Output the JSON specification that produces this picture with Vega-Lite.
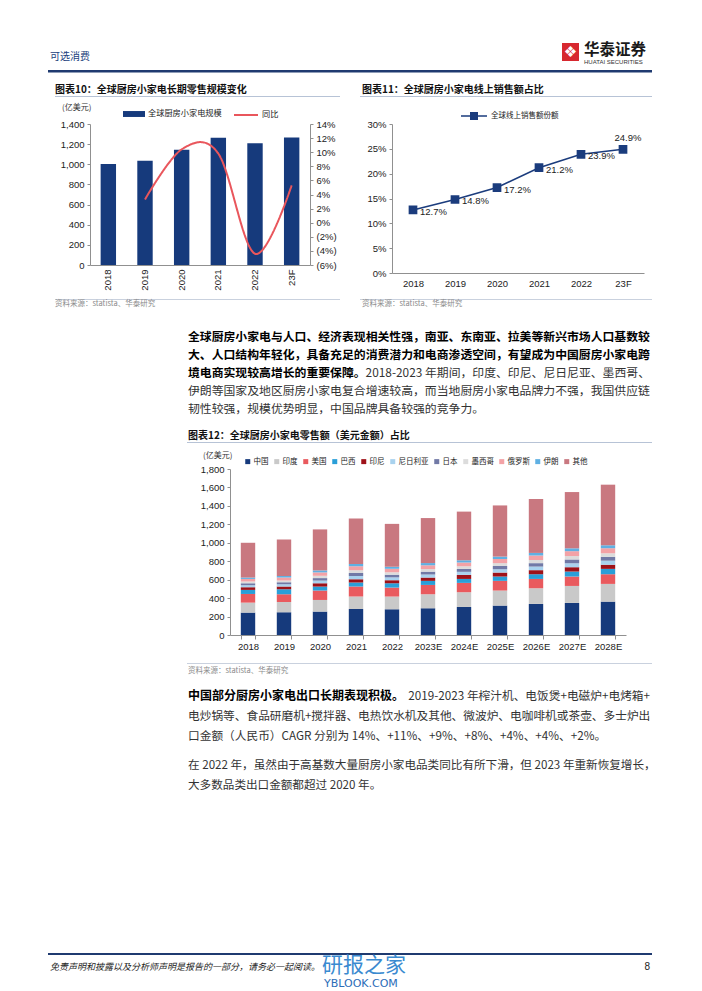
{
"$schema": "https://vega.github.io/schema/vega-lite/v6.json",
"padding": 0,
"background": "#ffffff",
"spacing": 0,
"config": {
  "view": {"stroke": null},
  "font": "Liberation Sans",
  "axis": {"labelFont": "Liberation Sans", "labelFontSize": 9.5, "labelColor": "#222222", "domainColor": "#909090", "tickColor": "#909090", "grid": false, "tickSize": 3, "labelPadding": 3, "title": null},
  "legend": {"labelFont": "Noto Sans CJK SC", "labelColor": "#222222", "labelFontSize": 8},
  "text": {"font": "Noto Sans CJK SC"}
},
"vconcat": [
{"width":702,"height":43,"data":{"values":[]},"mark":"rect"},

{"hconcat":[
  {"width":50,"height":27,"data":{"values":[]},"mark":"rect"},
  {"width":60,"height":27,"data":{"values":[{}]},"mark":{"type":"text","text":"可选消费","align":"left","baseline":"middle","fontSize":10,"color":"#22407c"},"encoding":{"x":{"value":0}}},
  {"width":452,"height":27,"data":{"values":[]},"mark":"rect"},
  {"width":17,"height":18,"data":{"values":[{}]},"layer":[
    {"mark":{"type":"rect","color":"#d7282f"},"encoding":{}},
    {"mark":{"type":"text","text":"❖","color":"#ffffff","fontSize":15,"font":"DejaVu Sans","align":"center","baseline":"middle"},"encoding":{}}
  ]},
  {"width":5,"height":27,"data":{"values":[]},"mark":"rect"},
  {"width":66,"height":22,"data":{"values":[{}]},"layer":[
    {"mark":{"type":"text","text":"华泰证券","align":"left","baseline":"top","fontSize":15.5,"fontWeight":"bold","color":"#1a1a1a"},"encoding":{"x":{"value":0},"y":{"value":0}}},
    {"mark":{"type":"text","text":"HUATAI SECURITIES","align":"left","baseline":"bottom","fontSize":6,"font":"Liberation Sans","color":"#333333"},"encoding":{"x":{"value":0},"y":{"value":"height"}}}
  ]},
  {"width":52,"height":27,"data":{"values":[]},"mark":"rect"}
],"bounds":"flush","spacing":0},

{"hconcat":[
  {"width":48,"height":2.5,"data":{"values":[]},"mark":"rect"},
  {"width":604,"height":2.5,"data":{"values":[{}]},"mark":{"type":"rect","color":"#1f3a70"},"encoding":{}}
],"bounds":"flush","spacing":0},

{"width":1,"height":9.5,"data":{"values":[]},"mark":"rect"},

{"hconcat":[
  {"width":55,"height":13,"data":{"values":[]},"mark":"rect"},
  {"width":285,"height":13,"data":{"values":[{}]},"mark":{"type":"text","text":"图表10：全球厨房小家电长期零售规模变化","align":"left","baseline":"middle","fontSize":10,"fontWeight":"bold","color":"#111111"},"encoding":{"x":{"value":0}}},
  {"width":22,"height":13,"data":{"values":[]},"mark":"rect"},
  {"width":290,"height":13,"data":{"values":[{}]},"mark":{"type":"text","text":"图表11：全球厨房小家电线上销售额占比","align":"left","baseline":"middle","fontSize":10,"fontWeight":"bold","color":"#111111"},"encoding":{"x":{"value":0}}}
],"bounds":"flush","spacing":0},

{"hconcat":[
  {"width":55,"height":1,"data":{"values":[]},"mark":"rect"},
  {"width":285,"height":1,"data":{"values":[{}]},"mark":{"type":"rect","color":"#b7c3d6"},"encoding":{}},
  {"width":20,"height":1,"data":{"values":[]},"mark":"rect"},
  {"width":292,"height":1,"data":{"values":[{}]},"mark":{"type":"rect","color":"#b7c3d6"},"encoding":{}}
],"bounds":"flush","spacing":0},

{"hconcat":[
  {"width":62,"height":21.25,"data":{"values":[]},"mark":"rect"},
  {"width":40,"height":21.25,"data":{"values":[{}]},"mark":{"type":"text","text":"(亿美元)","align":"left","baseline":"middle","fontSize":8,"color":"#333333"},"encoding":{"x":{"value":0}}}
],"bounds":"flush","spacing":0},

{"hconcat":[
  {"width":90,"height":175,"data":{"values":[]},"mark":"rect"},
  {"width":220,"height":141,
   "data":{"values":[
     {"year":"2018","v":1003},
     {"year":"2019","v":1036,"yoy":3.3},
     {"year":"2020","v":1145,"yoy":10.4},
     {"year":"2021","v":1264,"yoy":9.8},
     {"year":"2022","v":1208,"yoy":-4.4},
     {"year":"23F","v":1267,"yoy":5.3}
   ]},
   "layer":[
    {"mark":{"type":"bar"},
     "encoding":{
      "x":{"field":"year","type":"ordinal","sort":null,"scale":{"paddingInner":0.58,"paddingOuter":0.29},"axis":{"labelAngle":270,"ticks":false,"labelPadding":4}},
      "y":{"field":"v","type":"quantitative","scale":{"domain":[0,1400]},"axis":{"values":[0,200,400,600,800,1000,1200,1400],"format":",.0f"}},
      "fill":{"datum":"全球厨房小家电规模","type":"nominal","scale":{"range":["#163a7c"]},"legend":{"orient":"none","legendX":123,"legendY":103,"title":null,"symbolType":"M-1,-0.27H1V0.27H-1Z","symbolSize":484,"symbolStrokeWidth":0,"labelFontSize":8.2,"labelOffset":3}}
     }},
    {"mark":{"type":"line","interpolate":"cardinal","tension":0,"strokeWidth":2,"color":"#e9565c"},
     "encoding":{
      "x":{"field":"year","type":"ordinal","sort":null,"bandPosition":0.5},
      "y":{"field":"yoy","type":"quantitative","scale":{"domain":[-6,14]},"axis":{"orient":"right","values":[-6,-4,-2,0,2,4,6,8,10,12,14],"labelExpr":"datum.value < 0 ? '(' + abs(datum.value) + '%)' : datum.value + '%'"}},
      "strokeDash":{"datum":"同比","type":"nominal","scale":{"range":[[1,0]]},"legend":{"orient":"none","legendX":233,"legendY":102,"title":null,"symbolType":"stroke","symbolSize":576,"symbolStrokeWidth":2,"symbolStrokeColor":"#e9565c","labelFontSize":8.2,"labelOffset":3}}
     }}
   ],
   "resolve":{"scale":{"y":"independent"}}
  },
  {"width":82,"height":175,"data":{"values":[]},"mark":"rect"},
  {"width":252,"height":149,
   "data":{"values":[
     {"year":"2018","v":0.127},
     {"year":"2019","v":0.148},
     {"year":"2020","v":0.172},
     {"year":"2021","v":0.212},
     {"year":"2022","v":0.239},
     {"year":"23F","v":0.249}
   ]},
   "encoding":{
     "x":{"field":"year","type":"ordinal","sort":null,"scale":{"type":"point","padding":0.5},"axis":{"labelAngle":0,"ticks":false,"labelPadding":5}},
     "y":{"field":"v","type":"quantitative","scale":{"domain":[0,0.3]},"axis":{"values":[0,0.05,0.1,0.15,0.2,0.25,0.3],"format":".0%"}}
   },
   "layer":[
     {"mark":{"type":"line","strokeWidth":1.6,"point":{"shape":"square","size":45,"filled":true,"color":"#1b3c7d","stroke":"#1b3c7d"}},
      "encoding":{"stroke":{"datum":"全球线上销售额份额","type":"nominal","scale":{"range":["#1b3c7d"]},"legend":{"orient":"none","legendX":460,"legendY":102,"title":null,"symbolType":"M-1,0H1M-0.25,-0.25H0.25V0.25H-0.25Z","symbolSize":676,"symbolStrokeWidth":1.5,"symbolFillColor":"#1b3c7d","labelFontSize":7.5,"labelOffset":3}}}},
     {"transform":[{"filter":"datum.year != '23F'"}],
      "mark":{"type":"text","align":"left","baseline":"middle","dx":7,"dy":2,"fontSize":9.5,"font":"Liberation Sans","color":"#222222"},
      "encoding":{"text":{"field":"v","type":"quantitative","format":".1%"}}},
     {"transform":[{"filter":"datum.year == '23F'"}],
      "mark":{"type":"text","align":"center","baseline":"bottom","dx":5,"dy":-6,"fontSize":9.5,"font":"Liberation Sans","color":"#222222"},
      "encoding":{"text":{"field":"v","type":"quantitative","format":".1%"}}}
   ]
  }
],"bounds":"flush","spacing":0},

{"hconcat":[
  {"width":55,"height":1,"data":{"values":[]},"mark":"rect"},
  {"width":285,"height":1,"data":{"values":[{}]},"mark":{"type":"rect","color":"#c9d1de"},"encoding":{}},
  {"width":20,"height":1,"data":{"values":[]},"mark":"rect"},
  {"width":292,"height":1,"data":{"values":[{}]},"mark":{"type":"rect","color":"#c9d1de"},"encoding":{}}
],"bounds":"flush","spacing":0},

{"hconcat":[
  {"width":55,"height":8,"data":{"values":[]},"mark":"rect"},
  {"width":285,"height":8,"data":{"values":[{}]},"mark":{"type":"text","text":"资料来源：statista、华泰研究","align":"left","baseline":"middle","fontSize":7.5,"color":"#8c8c8c"},"encoding":{"x":{"value":0}}},
  {"width":22,"height":8,"data":{"values":[]},"mark":"rect"},
  {"width":290,"height":8,"data":{"values":[{}]},"mark":{"type":"text","text":"资料来源：statista、华泰研究","align":"left","baseline":"middle","fontSize":7.5,"color":"#8c8c8c"},"encoding":{"x":{"value":0}}}
],"bounds":"flush","spacing":0},

{"width":1,"height":20,"data":{"values":[]},"mark":"rect"},

{"hconcat":[
  {"width":188,"height":90,"data":{"values":[]},"mark":"rect"},
  {"width":462,"height":90,
   "layer":[
    {"data":{"values":[
       {"line":0,"t":"全球厨房小家电与人口、经济表现相关性强，南亚、东南亚、拉美等新兴市场人口基数较"},
       {"line":1,"t":"大、人口结构年轻化，具备充足的消费潜力和电商渗透空间，有望成为中国厨房小家电跨"},
       {"line":2,"t":"境电商实现较高增长的重要保障。"}
     ]},
     "mark":{"type":"text","align":"left","baseline":"middle","fontSize":11.85,"fontWeight":"bold","color":"#000000"},
     "encoding":{"x":{"value":0},"y":{"field":"line","type":"ordinal","scale":{"domain":[0,1,2,3,4],"padding":0.5},"axis":null},"text":{"field":"t"}}},
    {"data":{"values":[{"line":2,"t":"2018-2023 年期间，印度、印尼、尼日尼亚、墨西哥、"}]},
     "mark":{"type":"text","align":"right","baseline":"middle","fontSize":11.85,"color":"#333333"},
     "encoding":{"x":{"value":"width"},"y":{"field":"line","type":"ordinal","scale":{"domain":[0,1,2,3,4],"padding":0.5},"axis":null},"text":{"field":"t"}}},
    {"data":{"values":[
       {"line":3,"t":"伊朗等国家及地区厨房小家电复合增速较高，而当地厨房小家电品牌力不强，我国供应链"},
       {"line":4,"t":"韧性较强，规模优势明显，中国品牌具备较强的竞争力。"}
     ]},
     "mark":{"type":"text","align":"left","baseline":"middle","fontSize":11.85,"color":"#333333"},
     "encoding":{"x":{"value":0},"y":{"field":"line","type":"ordinal","scale":{"domain":[0,1,2,3,4],"padding":0.5},"axis":null},"text":{"field":"t"}}}
   ]
  }
],"bounds":"flush","spacing":0},

{"width":1,"height":12,"data":{"values":[]},"mark":"rect"},

{"hconcat":[
  {"width":188,"height":12,"data":{"values":[]},"mark":"rect"},
  {"width":464,"height":12,"data":{"values":[{}]},"mark":{"type":"text","text":"图表12：全球厨房小家电零售额（美元金额）占比","align":"left","baseline":"middle","fontSize":10,"fontWeight":"bold","color":"#111111"},"encoding":{"x":{"value":0}}}
],"bounds":"flush","spacing":0},

{"hconcat":[
  {"width":187,"height":1,"data":{"values":[]},"mark":"rect"},
  {"width":465,"height":1,"data":{"values":[{}]},"mark":{"type":"rect","color":"#b7c3d6"},"encoding":{}}
],"bounds":"flush","spacing":0},

{"width":1,"height":5,"data":{"values":[]},"mark":"rect"},

{"hconcat":[
  {"width":203,"height":15.25,"data":{"values":[]},"mark":"rect"},
  {"width":40,"height":15.25,"data":{"values":[{}]},"mark":{"type":"text","text":"(亿美元)","align":"left","baseline":"middle","fontSize":8,"color":"#333333"},"encoding":{"x":{"value":0}}}
],"bounds":"flush","spacing":0},

{"hconcat":[
  {"width":230,"height":194,"data":{"values":[]},"mark":"rect"},
  {"width":396,"height":166,
   "data":{"values":[
     {"year":"2018","中国":243,"印度":108,"美国":94,"巴西":44,"印尼":29,"尼日利亚":22,"日本":21,"墨西哥":19,"俄罗斯":28,"伊朗":15,"其他":377},
     {"year":"2019","中国":246,"印度":113,"美国":83,"巴西":54,"印尼":29,"尼日利亚":24,"日本":22,"墨西哥":21,"俄罗斯":31,"伊朗":17,"其他":395},
     {"year":"2020","中国":254,"印度":126,"美国":102,"巴西":43,"印尼":36,"尼日利亚":29,"日本":27,"墨西哥":25,"俄罗斯":37,"伊朗":21,"其他":445},
     {"year":"2021","中国":282,"印度":135,"美国":108,"巴西":44,"印尼":36,"尼日利亚":35,"日本":32,"墨西哥":29,"俄罗斯":44,"伊朗":25,"其他":492},
     {"year":"2022","中国":279,"印度":138,"美国":97,"巴西":47,"印尼":33,"尼日利亚":31,"日本":29,"墨西哥":26,"俄罗斯":38,"伊朗":22,"其他":465},
     {"year":"2023E","中国":290,"印度":152,"美国":101,"巴西":44,"印尼":36,"尼日利亚":33,"日本":31,"墨西哥":28,"俄罗斯":41,"伊朗":24,"其他":488},
     {"year":"2024E","中国":304,"印度":160,"美国":101,"巴西":43,"印尼":44,"尼日利亚":33,"日本":32,"墨西哥":28,"俄罗斯":41,"伊朗":24,"其他":528},
     {"year":"2025E","中国":319,"印度":163,"美国":105,"巴西":47,"印尼":43,"尼日利亚":36,"日本":35,"墨西哥":31,"俄罗斯":45,"伊朗":26,"其他":555},
     {"year":"2026E","中国":337,"印度":170,"美国":101,"巴西":51,"印尼":44,"尼日利亚":39,"日本":37,"墨西哥":34,"俄罗斯":49,"伊朗":28,"其他":585},
     {"year":"2027E","中国":348,"印度":184,"美国":102,"巴西":54,"印尼":47,"尼日利亚":43,"日本":41,"墨西哥":37,"俄罗斯":53,"伊朗":31,"其他":610},
     {"year":"2028E","中国":362,"印度":192,"美国":105,"巴西":58,"印尼":45,"尼日利亚":44,"日本":42,"墨西哥":38,"俄罗斯":55,"伊朗":32,"其他":657}
   ]},
   "transform":[
     {"fold":["中国","印度","美国","巴西","印尼","尼日利亚","日本","墨西哥","俄罗斯","伊朗","其他"],"as":["country","value"]},
     {"window":[{"op":"row_number","as":"k"}],"groupby":["year"]}
   ],
   "mark":{"type":"bar"},
   "encoding":{
     "x":{"field":"year","type":"ordinal","sort":null,"scale":{"paddingInner":0.6,"paddingOuter":0.3},"axis":{"labelAngle":0,"tickBand":"extent","tickSize":4,"labelPadding":2}},
     "y":{"field":"value","type":"quantitative","stack":"zero","scale":{"domain":[0,1800]},"axis":{"values":[0,200,400,600,800,1000,1200,1400,1600,1800],"format":",.0f"}},
     "order":{"field":"k","type":"quantitative","sort":"ascending"},
     "color":{"field":"country","type":"nominal",
       "scale":{"domain":["中国","印度","美国","巴西","印尼","尼日利亚","日本","墨西哥","俄罗斯","伊朗","其他"],
                "range":["#163a7c","#c9c9c9","#e95a5e","#2a9fd8","#9e1219","#a9d2ee","#7179a6","#dcdcdc","#f3a2a6","#5fb0e3","#c97880"]},
       "legend":{"orient":"none","legendX":244,"legendY":457.5,"direction":"horizontal","columns":11,"title":null,"symbolType":"square","symbolSize":25,"symbolStrokeWidth":0,"labelFontSize":7.5,"labelOffset":2,"columnPadding":4}}
   }
  }
],"bounds":"flush","spacing":0},

{"hconcat":[
  {"width":187,"height":1,"data":{"values":[]},"mark":"rect"},
  {"width":465,"height":1,"data":{"values":[{}]},"mark":{"type":"rect","color":"#c9d1de"},"encoding":{}}
],"bounds":"flush","spacing":0},

{"hconcat":[
  {"width":188,"height":14,"data":{"values":[]},"mark":"rect"},
  {"width":464,"height":14,"data":{"values":[{}]},"mark":{"type":"text","text":"资料来源：statista、华泰研究","align":"left","baseline":"middle","fontSize":7.5,"color":"#8c8c8c"},"encoding":{"x":{"value":0}}}
],"bounds":"flush","spacing":0},

{"width":1,"height":8,"data":{"values":[]},"mark":"rect"},

{"hconcat":[
  {"width":188,"height":60,"data":{"values":[]},"mark":"rect"},
  {"width":462,"height":60,
   "layer":[
    {"data":{"values":[{"line":0,"t":"中国部分厨房小家电出口长期表现积极。"}]},
     "mark":{"type":"text","align":"left","baseline":"middle","fontSize":12,"fontWeight":"bold","color":"#000000"},
     "encoding":{"x":{"value":0},"y":{"field":"line","type":"ordinal","scale":{"domain":[0,1,2],"padding":0.5},"axis":null},"text":{"field":"t"}}},
    {"data":{"values":[{"line":0,"t":"2019-2023 年榨汁机、电饭煲+电磁炉+电烤箱+"}]},
     "mark":{"type":"text","align":"right","baseline":"middle","fontSize":11.7,"color":"#333333"},
     "encoding":{"x":{"value":"width"},"y":{"field":"line","type":"ordinal","scale":{"domain":[0,1,2],"padding":0.5},"axis":null},"text":{"field":"t"}}},
    {"data":{"values":[
       {"line":1,"t":"电炒锅等、食品研磨机+搅拌器、电热饮水机及其他、微波炉、电咖啡机或茶壶、多士炉出"},
       {"line":2,"t":"口金额（人民币）CAGR 分别为 14%、+11%、+9%、+8%、+4%、+4%、+2%。"}
     ]},
     "mark":{"type":"text","align":"left","baseline":"middle","fontSize":11.7,"color":"#333333"},
     "encoding":{"x":{"value":0},"y":{"field":"line","type":"ordinal","scale":{"domain":[0,1,2],"padding":0.5},"axis":null},"text":{"field":"t"}}}
   ]
  }
],"bounds":"flush","spacing":0},

{"width":1,"height":10,"data":{"values":[]},"mark":"rect"},

{"hconcat":[
  {"width":188,"height":40,"data":{"values":[]},"mark":"rect"},
  {"width":462,"height":40,
   "data":{"values":[
     {"line":0,"t":"在 2022 年，虽然由于高基数大量厨房小家电品类同比有所下滑，但 2023 年重新恢复增长，"},
     {"line":1,"t":"大多数品类出口金额都超过 2020 年。"}
   ]},
   "mark":{"type":"text","align":"left","baseline":"middle","fontSize":11.6,"color":"#333333"},
   "encoding":{"x":{"value":0},"y":{"field":"line","type":"ordinal","scale":{"domain":[0,1],"padding":0.5},"axis":null},"text":{"field":"t"}}
  }
],"bounds":"flush","spacing":0},

{"width":1,"height":157,"data":{"values":[]},"mark":"rect"},

{"hconcat":[
  {"width":48,"height":2,"data":{"values":[]},"mark":"rect"},
  {"width":604,"height":2,"data":{"values":[{}]},"mark":{"type":"rect","color":"#1f3a70"},"encoding":{}}
],"bounds":"flush","spacing":0},

{"hconcat":[
  {"width":50,"height":39,"data":{"values":[]},"mark":"rect"},
  {"width":272,"height":24,"data":{"values":[{}]},"mark":{"type":"text","text":"免责声明和披露以及分析师声明是报告的一部分，请务必一起阅读。","align":"left","baseline":"middle","fontSize":9,"fontStyle":"italic","color":"#222222"},"encoding":{"x":{"value":0}}},
  {"width":110,"height":34,"data":{"values":[{}]},"layer":[
    {"mark":{"type":"text","text":"研报之家","align":"left","baseline":"top","fontSize":21,"color":"#3a8ad0"},"encoding":{"x":{"value":0},"y":{"value":0}}},
    {"mark":{"type":"text","text":"YBLOOK.COM","align":"left","baseline":"bottom","fontSize":11,"font":"DejaVu Sans","color":"#2b6db8"},"encoding":{"x":{"value":2},"y":{"value":"height"}}}
  ]},
  {"width":208,"height":39,"data":{"values":[]},"mark":"rect"},
  {"width":10,"height":24,"data":{"values":[{}]},"mark":{"type":"text","text":"8","align":"right","baseline":"middle","fontSize":10,"font":"Liberation Sans","color":"#222222"},"encoding":{"x":{"value":"width"}}}
],"bounds":"flush","spacing":0}
]
}
